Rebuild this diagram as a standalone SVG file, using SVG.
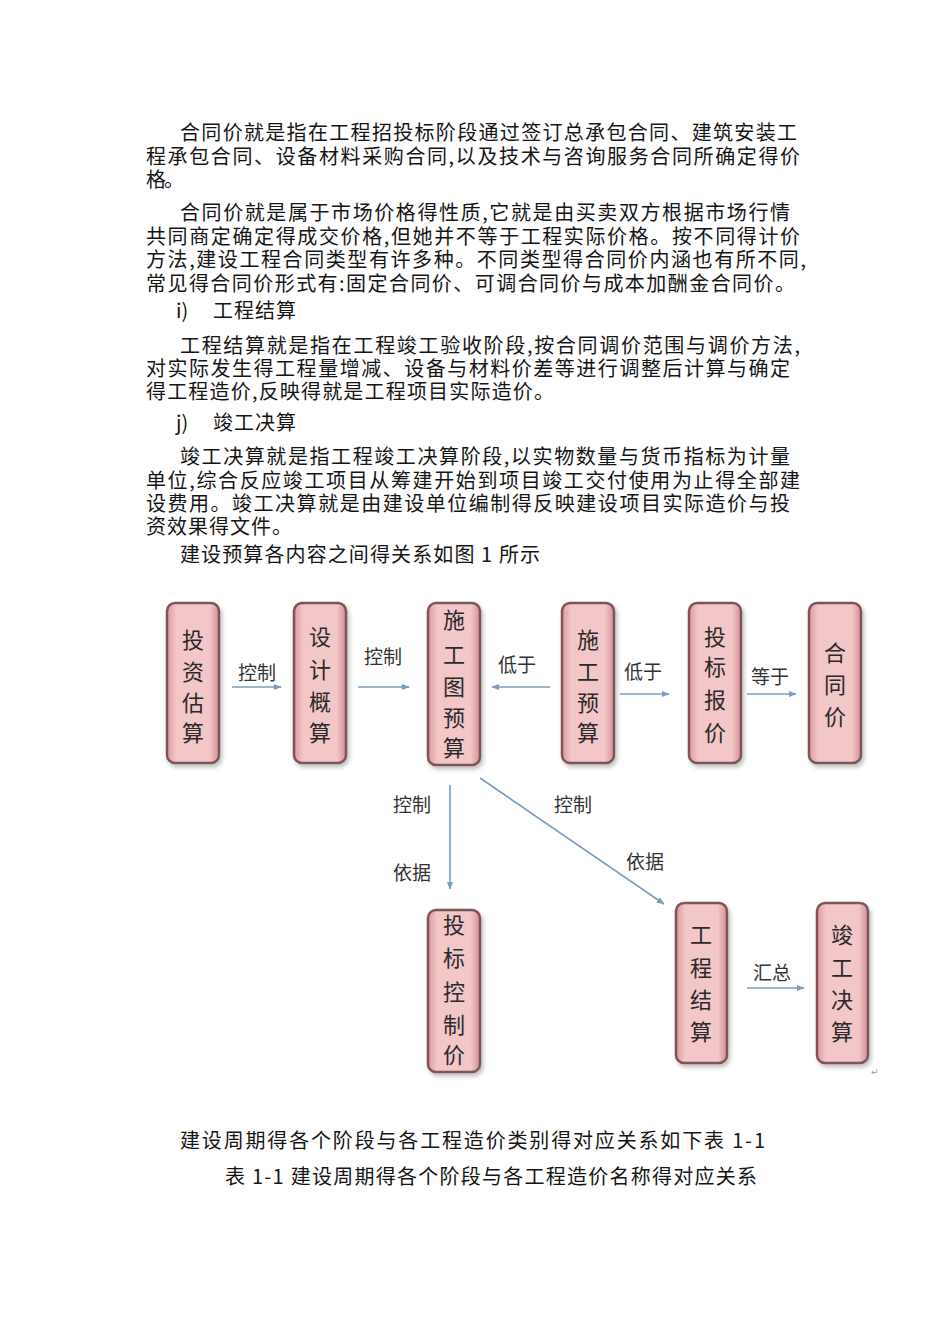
<svg xmlns="http://www.w3.org/2000/svg" width="950" height="1344" viewBox="0 0 950 1344">
<style>
.body{font-family:"Noto Sans CJK SC","Noto Sans CJK JP",sans-serif;font-size:20px;fill:#151515;}
.node rect{fill:url(#pink);stroke:#7d5558;stroke-width:2.5;filter:url(#sh);}
.node text{font-family:"Noto Sans CJK SC",sans-serif;font-size:22px;fill:#2a2a2a;text-anchor:middle;}
.lbl{font-family:"Noto Sans CJK SC",sans-serif;font-size:19px;fill:#333;text-anchor:middle;}
.conn line{stroke:#7b9cc0;stroke-width:1.6;marker-end:url(#ah);}
</style>
<defs>
<linearGradient id="pink" x1="0" y1="0" x2="1" y2="0">
<stop offset="0" stop-color="#dc9a9e"/>
<stop offset="0.18" stop-color="#f3c6c8"/>
<stop offset="0.82" stop-color="#f3c6c8"/>
<stop offset="1" stop-color="#d49094"/>
</linearGradient>
<filter id="sh" x="-20%" y="-10%" width="150%" height="130%">
<feDropShadow dx="2" dy="3" stdDeviation="2" flood-color="#000" flood-opacity="0.25"/>
</filter>
<marker id="ah" viewBox="0 0 10 10" refX="9" refY="5" markerWidth="5" markerHeight="5" orient="auto">
<path d="M0,1 L10,5 L0,9 z" fill="#7b9cc0"/>
</marker>
</defs>
<rect width="950" height="1344" fill="#fff"/>

<g id="text">
<text class="body" x="180" y="140" textLength="617" lengthAdjust="spacing">合同价就是指在工程招投标阶段通过签订总承包合同、建筑安装工</text>
<text class="body" x="146" y="164" textLength="654" lengthAdjust="spacing">程承包合同、设备材料采购合同,以及技术与咨询服务合同所确定得价</text>
<text class="body" x="146" y="187" textLength="38" lengthAdjust="spacing">格。</text>
<text class="body" x="180" y="220" textLength="610" lengthAdjust="spacing">合同价就是属于市场价格得性质,它就是由买卖双方根据市场行情</text>
<text class="body" x="146" y="244" textLength="654" lengthAdjust="spacing">共同商定确定得成交价格,但她并不等于工程实际价格。按不同得计价</text>
<text class="body" x="146" y="267" textLength="660" lengthAdjust="spacing">方法,建设工程合同类型有许多种。不同类型得合同价内涵也有所不同,</text>
<text class="body" x="146" y="291" textLength="649" lengthAdjust="spacing">常见得合同价形式有:固定合同价、可调合同价与成本加酬金合同价。</text>
<text class="body" x="176" y="318">i)</text>
<text class="body" x="213" y="318" textLength="83" lengthAdjust="spacing">工程结算</text>
<text class="body" x="180" y="353" textLength="620" lengthAdjust="spacing">工程结算就是指在工程竣工验收阶段,按合同调价范围与调价方法,</text>
<text class="body" x="146" y="376" textLength="644" lengthAdjust="spacing">对实际发生得工程量增减、设备与材料价差等进行调整后计算与确定</text>
<text class="body" x="146" y="399" textLength="408" lengthAdjust="spacing">得工程造价,反映得就是工程项目实际造价。</text>
<text class="body" x="176" y="430">j)</text>
<text class="body" x="213" y="430" textLength="83" lengthAdjust="spacing">竣工决算</text>
<text class="body" x="180" y="464" textLength="610" lengthAdjust="spacing">竣工决算就是指工程竣工决算阶段,以实物数量与货币指标为计量</text>
<text class="body" x="146" y="488" textLength="654" lengthAdjust="spacing">单位,综合反应竣工项目从筹建开始到项目竣工交付使用为止得全部建</text>
<text class="body" x="146" y="511" textLength="644" lengthAdjust="spacing">设费用。竣工决算就是由建设单位编制得反映建设项目实际造价与投</text>
<text class="body" x="146" y="534" textLength="146" lengthAdjust="spacing">资效果得文件。</text>
<text class="body" x="180" y="562" textLength="360" lengthAdjust="spacing">建设预算各内容之间得关系如图 1 所示</text>
<text class="body" x="180" y="1148" textLength="585" lengthAdjust="spacing">建设周期得各个阶段与各工程造价类别得对应关系如下表 1-1</text>
<text class="body" x="225" y="1184" textLength="532" lengthAdjust="spacing">表 1-1 建设周期得各个阶段与各工程造价名称得对应关系</text>
</g>

<g id="connectors" class="conn">
<line x1="232" y1="687" x2="281" y2="687"/>
<line x1="358" y1="687" x2="409" y2="687"/>
<line x1="550" y1="687" x2="492" y2="687"/>
<line x1="620" y1="694" x2="669" y2="694"/>
<line x1="747" y1="694" x2="796" y2="694"/>
<line x1="450" y1="785" x2="450" y2="889"/>
<line x1="480" y1="778" x2="664" y2="904"/>
<line x1="747" y1="988" x2="804" y2="988"/>
<text class="lbl" x="257" y="680">控制</text>
<text class="lbl" x="383" y="664">控制</text>
<text class="lbl" x="517" y="672">低于</text>
<text class="lbl" x="643" y="679">低于</text>
<text class="lbl" x="770" y="684">等于</text>
<text class="lbl" x="412" y="812">控制</text>
<text class="lbl" x="412" y="880">依据</text>
<text class="lbl" x="573" y="812">控制</text>
<text class="lbl" x="645" y="869">依据</text>
<text class="lbl" x="772" y="980">汇总</text>
</g>

<g id="n1" class="node"><rect x="167" y="603" width="52" height="160" rx="8"/>
<text x="193" y="648">投</text><text x="193" y="680">资</text><text x="193" y="711">估</text><text x="193" y="741">算</text></g>
<g id="n2" class="node"><rect x="294" y="603" width="52" height="160" rx="8"/>
<text x="320" y="645">设</text><text x="320" y="678">计</text><text x="320" y="710">概</text><text x="320" y="741">算</text></g>
<g id="n3" class="node"><rect x="428" y="603" width="52" height="162" rx="8"/>
<text x="454" y="628">施</text><text x="454" y="663">工</text><text x="454" y="695">图</text><text x="454" y="726">预</text><text x="454" y="756">算</text></g>
<g id="n4" class="node"><rect x="562" y="603" width="52" height="160" rx="8"/>
<text x="588" y="648">施</text><text x="588" y="680">工</text><text x="588" y="711">预</text><text x="588" y="741">算</text></g>
<g id="n5" class="node"><rect x="689" y="603" width="52" height="160" rx="8"/>
<text x="715" y="645">投</text><text x="715" y="675">标</text><text x="715" y="708">报</text><text x="715" y="741">价</text></g>
<g id="n6" class="node"><rect x="809" y="603" width="52" height="160" rx="8"/>
<text x="835" y="661">合</text><text x="835" y="693">同</text><text x="835" y="725">价</text></g>
<g id="n7" class="node"><rect x="428" y="910" width="52" height="162" rx="8"/>
<text x="454" y="933">投</text><text x="454" y="966">标</text><text x="454" y="1000">控</text><text x="454" y="1033">制</text><text x="454" y="1063">价</text></g>
<g id="n8" class="node"><rect x="676" y="903" width="51" height="160" rx="8"/>
<text x="701" y="943">工</text><text x="701" y="976">程</text><text x="701" y="1008">结</text><text x="701" y="1040">算</text></g>
<g id="n9" class="node"><rect x="817" y="903" width="51" height="160" rx="8"/>
<text x="842" y="943">竣</text><text x="842" y="976">工</text><text x="842" y="1008">决</text><text x="842" y="1040">算</text></g>
<text x="871" y="1075" font-family="DejaVu Sans,sans-serif" font-size="9" fill="#999">↵</text>
</svg>
